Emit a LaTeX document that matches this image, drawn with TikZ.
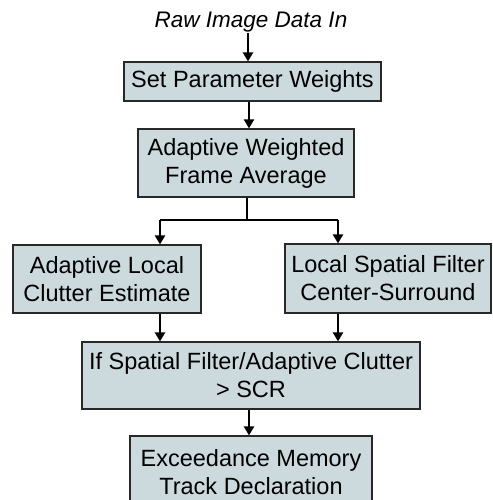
\documentclass[tikz,border=0pt]{standalone}
\usepackage{fontspec}
\setmainfont{Liberation Sans}
\usetikzlibrary{arrows.meta}
\definecolor{boxfill}{RGB}{204,218,222}
\definecolor{boxline}{RGB}{40,40,40}
\begin{document}
\begin{tikzpicture}[x=1pt,y=-1pt,
  procbox/.style={draw=boxline, fill=boxfill, line width=1.2pt, inner sep=0pt,
    align=center, font=\fontsize{23.5}{28}\selectfont},
  flow/.style={line width=2.2pt, -{Triangle[length=9pt,width=10pt]}}]
\useasboundingbox (0,0) rectangle (492,500);
\node[font=\fontsize{22.5}{26}\selectfont\itshape, inner sep=0pt] (t) at (251,22) {Raw Image Data In};
\node[procbox, minimum width=257pt, minimum height=39pt] (b1) at (252.5,81.5) {Set Parameter Weights};
\node[procbox, minimum width=216pt, minimum height=68pt] (b2) at (246,163) {Adaptive Weighted\\Frame Average};
\node[procbox, minimum width=188pt, minimum height=68pt] (b3) at (107,279) {Adaptive Local\\Clutter Estimate};
\node[procbox, minimum width=206pt, minimum height=69pt] (b4) at (388,278.5) {Local Spatial Filter\\Center-Surround};
\node[procbox, minimum width=338pt, minimum height=67pt] (b5) at (251,375.5) {If Spatial Filter/Adaptive Clutter\\\textgreater{} SCR};
\node[procbox, minimum width=242pt, minimum height=72pt] (b6) at (251,472) {Exceedance Memory\\Track Declaration};
\coordinate (t0) at (248,33);
\coordinate (j) at (247,220);
\coordinate (l1) at (160,220);
\coordinate (r1) at (338,220);
\draw[flow] (t0) -- (t0 |- b1.north);
\draw[flow] (b1.south -| 249,0) -- (b2.north -| 249,0);
\draw[line width=2.2pt] (b2.south -| j) -- (j);
\draw[line width=2.2pt] (l1) -- (r1);
\draw[flow] (l1) -- (l1 |- b3.north);
\draw[flow] (r1) -- (r1 |- b4.north);
\draw[flow] (b3.south -| l1) -- (b5.north -| l1);
\draw[flow] (b4.south -| r1) -- (b5.north -| r1);
\draw[flow] (b5.south -| 249,0) -- (b6.north -| 249,0);
\end{tikzpicture}
\end{document}
